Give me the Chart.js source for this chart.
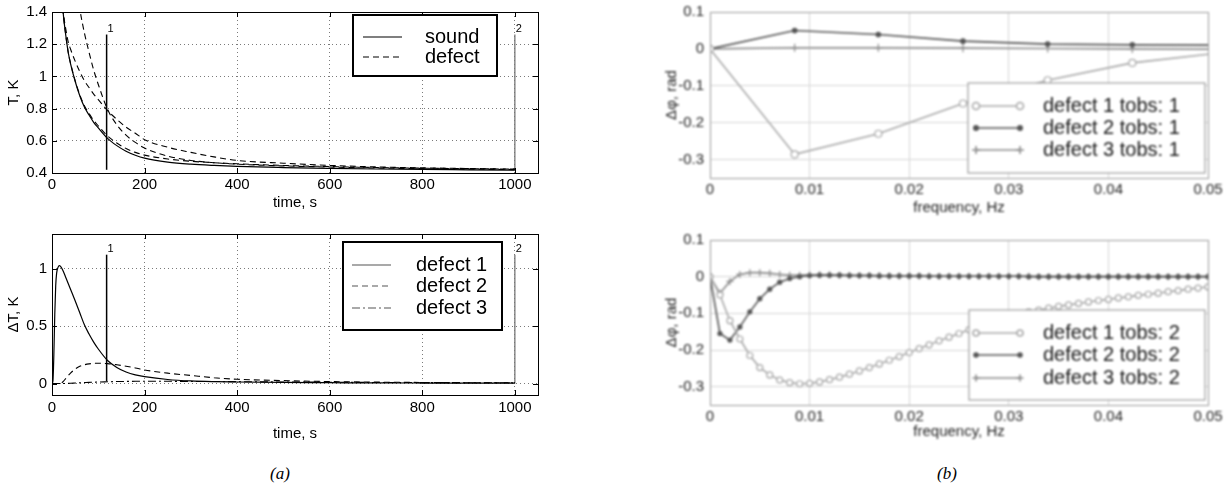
<!DOCTYPE html>
<html>
<head>
<meta charset="utf-8">
<script src="https://cdn.jsdelivr.net/npm/chart.js@4.4.0/dist/chart.umd.min.js"></script>
<style>
  html, body { margin: 0; padding: 0; background: #fff; }
  body { width: 1228px; height: 489px; position: relative; overflow: hidden; }
  canvas { position: absolute; }
  #histT { left: 0; top: 0; }
  #histDT { left: 0; top: 225px; }
  #phase1 { left: 640px; top: 0; }
  #phase2 { left: 640px; top: 225px; }
  .soft { filter: blur(0.8px); }
  .cap { position: absolute; top: 474px; transform: translate(-50%, -50%);
         font: italic 17px "Liberation Serif", "DejaVu Serif", serif; color: #000; }
</style>
</head>
<body>
<canvas id="histT" width="545" height="225"></canvas>
<canvas id="histDT" width="545" height="230"></canvas>
<canvas id="phase1" class="soft" width="585" height="225"></canvas>
<canvas id="phase2" class="soft" width="585" height="230"></canvas>
<div class="cap" style="left:280px">(a)</div>
<div class="cap" style="left:947px">(b)</div>
<script>
// (a) top: surface temperature, sound area and three defects
const timeT = [20, 25, 30, 35, 40, 50, 60, 70, 80, 90, 100, 120, 140, 160, 180, 200, 250, 300, 350, 400, 500, 600, 700, 800, 900, 1000];
const tSound = [1.55, 1.37, 1.25, 1.15, 1.08, 0.97, 0.88, 0.81, 0.76, 0.715, 0.68, 0.615, 0.57, 0.535, 0.51, 0.492, 0.468, 0.455, 0.447, 0.441, 0.434, 0.429, 0.425, 0.422, 0.42, 0.418];
const tDefect1 = [2.5, 2.3, 2.1, 1.97, 1.85, 1.62, 1.42, 1.27, 1.15, 1.04, 0.95, 0.795, 0.70, 0.635, 0.59, 0.555, 0.505, 0.478, 0.464, 0.455, 0.444, 0.437, 0.431, 0.427, 0.424, 0.421];
const tDefect2 = [1.553, 1.385, 1.29, 1.215, 1.17, 1.095, 1.03, 0.973, 0.931, 0.89, 0.856, 0.788, 0.733, 0.685, 0.647, 0.607, 0.56, 0.528, 0.5, 0.478, 0.461, 0.447, 0.438, 0.432, 0.428, 0.424];
const tDefect3 = [1.55, 1.37, 1.25, 1.15, 1.082, 0.974, 0.886, 0.818, 0.77, 0.727, 0.693, 0.63, 0.586, 0.552, 0.528, 0.511, 0.487, 0.473, 0.464, 0.457, 0.447, 0.44, 0.434, 0.43, 0.427, 0.424];

// (a) bottom: temperature contrast over each defect
const timeDT = [0, 2, 4, 6, 8, 10, 13, 16, 20, 25, 30, 40, 50, 60, 70, 80, 90, 100, 120, 140, 160, 180, 200, 250, 300, 350, 400, 500, 600, 700, 800, 900, 1000];
const dT1 = [0, 0.02, 0.25, 0.6, 0.85, 0.96, 1.01, 1.025, 1.01, 0.97, 0.92, 0.82, 0.72, 0.615, 0.51, 0.43, 0.36, 0.3, 0.2, 0.14, 0.1, 0.075, 0.06, 0.035, 0.022, 0.016, 0.013, 0.009, 0.007, 0.005, 0.004, 0.003, 0.003];
const dT2 = [0, 0, 0, 0, 0, 0, 0, 0.001, 0.003, 0.02, 0.045, 0.09, 0.125, 0.15, 0.163, 0.171, 0.175, 0.176, 0.173, 0.163, 0.15, 0.135, 0.118, 0.09, 0.07, 0.05, 0.037, 0.025, 0.017, 0.012, 0.009, 0.007, 0.006];
const dT3 = [0, 0, 0, 0, 0, 0, 0, 0, 0, 0, 0.001, 0.002, 0.004, 0.006, 0.008, 0.01, 0.011, 0.013, 0.015, 0.017, 0.018, 0.019, 0.019, 0.019, 0.018, 0.017, 0.016, 0.013, 0.011, 0.009, 0.008, 0.007, 0.006];

// observation times tobs 1 and 2
const markTime = [118, 1000];
const markLabels = ['1', '2'];
const markT = [[0.42, 1.26], [0.42, 1.26]];
const markDT = [[0.02, 1.12], [0, 1.12]];

const legendT = ['sound', 'defect'];
const legendDT = ['defect 1', 'defect 2', 'defect 3'];

// (b) phase difference spectra
const freq1 = [0, 0.0085, 0.0169, 0.0254, 0.0339, 0.0424, 0.0508];
const phi1D1 = [0, -0.286, -0.23, -0.148, -0.085, -0.038, -0.012];
const phi1D2 = [0, 0.05, 0.039, 0.021, 0.013, 0.011, 0.01];
const phi1D3 = [0, 0.003, 0.003, 0.002, 0.001, 0, -0.001];

const freq2 = [0, 0.001, 0.002, 0.003, 0.004, 0.005, 0.006, 0.007, 0.008, 0.009,
  0.01, 0.011, 0.012, 0.013, 0.014, 0.015, 0.016, 0.017, 0.018, 0.019,
  0.02, 0.021, 0.022, 0.023, 0.024, 0.025, 0.026, 0.027, 0.028, 0.029,
  0.03, 0.031, 0.032, 0.033, 0.034, 0.035, 0.036, 0.037, 0.038, 0.039,
  0.04, 0.041, 0.042, 0.043, 0.044, 0.045, 0.046, 0.047, 0.048, 0.049, 0.05];
const phi2D1 = [0, -0.05, -0.12, -0.17, -0.215, -0.248, -0.268, -0.282, -0.289, -0.292,
  -0.291, -0.287, -0.281, -0.274, -0.266, -0.257, -0.248, -0.238, -0.228, -0.218,
  -0.207, -0.196, -0.186, -0.175, -0.165, -0.155, -0.145, -0.135, -0.126, -0.117,
  -0.108, -0.102, -0.096, -0.091, -0.086, -0.081, -0.077, -0.073, -0.069, -0.065,
  -0.062, -0.058, -0.055, -0.051, -0.048, -0.045, -0.041, -0.038, -0.034, -0.031, -0.028];
const phi2D2 = [0, -0.155, -0.173, -0.137, -0.096, -0.06, -0.034, -0.015, -0.005, 0,
  0.003, 0.004, 0.004, 0.004, 0.003, 0.003, 0.003, 0.002, 0.002, 0.002,
  0.002, 0.002, 0.001, 0.001, 0.001, 0.001, 0.001, 0.001, 0.001, 0.001,
  0.001, 0.001, 0, 0, 0, 0, 0, 0, 0, 0,
  0, 0, 0, 0, 0, 0, 0, 0, 0, 0, 0];
const phi2D3 = [0, -0.045, -0.013, 0.006, 0.011, 0.011, 0.009, 0.006, 0.004, 0.004,
  0.005, 0.005, 0.005, 0.004, 0.004, 0.003, 0.003, 0.003, 0.002, 0.002,
  0.002, 0.002, 0.002, 0.001, 0.001, 0.001, 0.001, 0.001, 0.001, 0.001,
  0.001, 0.001, 0.001, 0, 0, 0, 0, 0, 0, 0,
  0, 0, 0, 0, 0, 0, 0, 0, 0, 0, 0];
const legendPhi1 = ['defect 1 tobs: 1', 'defect 2 tobs: 1', 'defect 3 tobs: 1'];
const legendPhi2 = ['defect 1 tobs: 2', 'defect 2 tobs: 2', 'defect 3 tobs: 2'];

const FONT = '"Liberation Sans", Arial, Helvetica, sans-serif';
const DASH = [6, 4];
const DASHDOT = [8, 3, 2, 3];

const pts = (xs, ys) => xs.map((x, i) => ({ x, y: ys[i] }));
const num = v => String(Math.round(v * 1e6) / 1e6);

// box round the plot area, with short inward ticks like the old matlab figures
const framePlugin = {
  id: 'frame',
  afterDatasetsDraw(chart, args, o) {
    if (!o || !o.color) return;
    const { ctx, chartArea: a, scales } = chart;
    ctx.save();
    ctx.strokeStyle = o.color;
    ctx.lineWidth = o.width;
    if (o.ticks) {
      ctx.beginPath();
      scales.x.ticks.forEach(t => {
        const px = Math.round(scales.x.getPixelForValue(t.value)) + 0.5;
        ctx.moveTo(px, a.bottom); ctx.lineTo(px, a.bottom - o.ticks);
        ctx.moveTo(px, a.top); ctx.lineTo(px, a.top + o.ticks);
      });
      scales.y.ticks.forEach(t => {
        const py = Math.round(scales.y.getPixelForValue(t.value)) + 0.5;
        ctx.moveTo(a.left, py); ctx.lineTo(a.left + o.ticks, py);
        ctx.moveTo(a.right, py); ctx.lineTo(a.right - o.ticks, py);
      });
      ctx.stroke();
    }
    ctx.strokeRect(Math.round(a.left) + 0.5, Math.round(a.top) + 0.5,
      Math.round(a.right - a.left), Math.round(a.bottom - a.top));
    ctx.restore();
  }
};

// numbers above the tobs lines
const tagPlugin = {
  id: 'tags',
  afterDatasetsDraw(chart, args, o) {
    if (!o || !o.labels) return;
    const { ctx, scales } = chart;
    ctx.save();
    ctx.font = '11px ' + FONT;
    ctx.fillStyle = '#000';
    ctx.textBaseline = 'middle';
    o.labels.forEach((lab, i) => {
      ctx.fillText(lab, scales.x.getPixelForValue(o.xs[i]) + 1, scales.y.getPixelForValue(o.tops[i]) - 6);
    });
    ctx.restore();
  }
};

// legend drawn inside the axes, in a boxed panel
const boxLegendPlugin = {
  id: 'boxLegend',
  afterDraw(chart, args, o) {
    if (!o || !o.labels) return;
    const ctx = chart.ctx;
    const [x1, y1, x2, y2] = o.box;
    ctx.save();
    ctx.fillStyle = '#fff';
    ctx.fillRect(x1, y1, x2 - x1, y2 - y1);
    ctx.strokeStyle = o.border;
    ctx.lineWidth = o.borderWidth;
    ctx.strokeRect(x1, y1, x2 - x1, y2 - y1);
    ctx.font = o.fontSize + 'px ' + FONT;
    ctx.textBaseline = 'middle';
    o.labels.forEach((lab, i) => {
      const ds = chart.data.datasets[o.styleFrom[i]];
      const y = o.rows[i];
      ctx.strokeStyle = o.sampleColor || ds.borderColor;
      ctx.lineWidth = ds.borderWidth;
      ctx.setLineDash(ds.borderDash || []);
      ctx.beginPath();
      ctx.moveTo(o.sample[0], y); ctx.lineTo(o.sample[1], y);
      ctx.stroke();
      ctx.setLineDash([]);
      if (ds.pointRadius) {
        ctx.fillStyle = ds.pointBackgroundColor;
        ctx.strokeStyle = ds.borderColor;
        const po = { pointStyle: ds.pointStyle, radius: ds.pointRadius, rotation: 0, borderWidth: 1 };
        Chart.helpers.drawPoint(ctx, po, o.sample[0], y);
        Chart.helpers.drawPoint(ctx, po, o.sample[1], y);
      }
      ctx.fillStyle = o.text;
      ctx.fillText(lab, o.textX, y);
    });
    ctx.restore();
  }
};

Chart.register(framePlugin, tagPlugin, boxLegendPlugin);

function axes(o) {
  return {
    x: {
      type: 'linear', min: o.xMin, max: o.xMax,
      ticks: { stepSize: o.xStep, includeBounds: false, autoSkip: false, maxRotation: 0,
        padding: o.xPad, color: o.text, font: { family: FONT, size: 15 }, callback: num },
      grid: { color: o.grid, drawTicks: false, lineWidth: 1 },
      border: { display: false, dash: o.dash },
      title: { display: true, text: o.xTitle, color: o.text, font: { family: FONT, size: 15 },
        padding: { top: 0, bottom: o.xTitlePad } },
      afterFit: s => { s.height = o.bottomH; s.paddingLeft = 0; s.paddingRight = 0; }
    },
    y: {
      type: 'linear', min: o.yMin, max: o.yMax,
      ticks: { stepSize: o.yStep, includeBounds: false, autoSkip: false,
        padding: o.yPad, color: o.text, font: { family: FONT, size: 15 }, callback: num },
      grid: { color: o.grid, drawTicks: false, lineWidth: 1 },
      border: { display: false, dash: o.dash },
      title: { display: true, text: o.yTitle, color: o.text, font: { family: FONT, size: 15 },
        padding: { top: o.yTitlePad, bottom: 0 } },
      afterFit: s => { s.width = o.leftW; s.paddingTop = 0; s.paddingBottom = 0; }
    }
  };
}

function curve(label, xs, ys, dash, color, width) {
  return { label, data: pts(xs, ys), borderColor: color, backgroundColor: color,
    borderWidth: width, borderDash: dash, pointRadius: 0, cubicInterpolationMode: 'monotone' };
}
function markLine(t, ys, color, width) {
  return { data: [{ x: t, y: ys[0] }, { x: t, y: ys[1] }], borderColor: color,
    borderWidth: width, pointRadius: 0 };
}
function series(label, xs, ys, color, style, r, fill) {
  return { label, data: pts(xs, ys), borderColor: color, borderWidth: 1.6,
    pointStyle: style, pointRadius: r, pointBorderWidth: 1.2, pointBorderColor: color,
    pointBackgroundColor: fill, backgroundColor: fill, tension: 0 };
}

function make(id, datasets, padding, scales, plugins) {
  return new Chart(document.getElementById(id), {
    type: 'line',
    data: { datasets },
    options: {
      responsive: false, animation: false, events: [],
      layout: { padding },
      scales,
      plugins: Object.assign({ legend: { display: false }, tooltip: { enabled: false } }, plugins)
    }
  });
}

// (a) top
make('histT', [
  curve('sound', timeT, tSound, [], '#000', 1.2),
  curve('defect 1', timeT, tDefect1, DASH, '#000', 1.1),
  curve('defect 2', timeT, tDefect2, DASH, '#000', 1.1),
  curve('defect 3', timeT, tDefect3, DASH, '#000', 1.1),
  markLine(markTime[0], markT[0], '#000', 1.5),
  markLine(markTime[1], markT[1], '#777', 1.3)
], { left: 0, top: 12, right: 7, bottom: 0 },
axes({ xMin: 0, xMax: 1050, xStep: 200, yMin: 0.4, yMax: 1.4, yStep: 0.2,
  xTitle: 'time, s', yTitle: 'T, K', text: '#000', grid: '#7a7a7a', dash: [1, 3],
  xPad: 3, yPad: 5, xTitlePad: 13, yTitlePad: 5, leftW: 52, bottomH: 52 }),
{ frame: { color: '#000', width: 1, ticks: 5 },
  tags: { labels: markLabels, xs: markTime, tops: [markT[0][1], markT[1][1]] },
  boxLegend: { labels: legendT, styleFrom: [0, 1], box: [353, 15, 497, 76], sample: [363, 402],
    textX: 425, rows: [37, 57], fontSize: 20, border: '#000', borderWidth: 2, text: '#000' } });

// (a) bottom
make('histDT', [
  curve('defect 1', timeDT, dT1, [], '#000', 1.2),
  curve('defect 2', timeDT, dT2, DASH, '#000', 1.1),
  curve('defect 3', timeDT, dT3, DASHDOT, '#000', 1.1),
  markLine(markTime[0], markDT[0], '#000', 1.5),
  markLine(markTime[1], markDT[1], '#777', 1.3)
], { left: 0, top: 9, right: 7, bottom: 0 },
axes({ xMin: 0, xMax: 1050, xStep: 200, yMin: -0.1, yMax: 1.3, yStep: 0.5,
  xTitle: 'time, s', yTitle: '\u0394T, K', text: '#000', grid: '#7a7a7a', dash: [1, 3],
  xPad: 4, yPad: 5, xTitlePad: 12, yTitlePad: 5, leftW: 52, bottomH: 60 }),
{ frame: { color: '#000', width: 1, ticks: 5 },
  tags: { labels: markLabels, xs: markTime, tops: [markDT[0][1], markDT[1][1]] },
  boxLegend: { labels: legendDT, styleFrom: [0, 1, 2], box: [343, 17, 502, 105], sample: [352, 391],
    textX: 416, rows: [40, 61, 83], fontSize: 20, border: '#000', borderWidth: 2, text: '#000',
    sampleColor: '#555' } });

// (b) top, tobs 1
make('phase1', [
  series('defect 1', freq1, phi1D1, '#a8a8a8', 'circle', 3.5, '#fff'),
  series('defect 2', freq1, phi1D2, '#555555', 'circle', 2.2, '#555555'),
  series('defect 3', freq1, phi1D3, '#8a8a8a', 'cross', 4, '#8a8a8a')
], { left: 0, top: 12, right: 17, bottom: 0 },
axes({ xMin: 0, xMax: 0.05, xStep: 0.01, yMin: -0.35, yMax: 0.1, yStep: 0.1,
  xTitle: 'frequency, Hz', yTitle: '\u0394\u03c6, rad', text: '#1e1e1e', grid: '#d6d6d6', dash: [],
  xPad: 3, yPad: 6, xTitlePad: 8, yTitlePad: 23, leftW: 70, bottomH: 47 }),
{ frame: { color: '#9a9a9a', width: 1, ticks: 0 },
  boxLegend: { labels: legendPhi1, styleFrom: [0, 1, 2], box: [328, 83, 565, 173], sample: [336, 380],
    textX: 403, rows: [106, 128, 150], fontSize: 20, border: '#8a8a8a', borderWidth: 1, text: '#161616' } });

// (b) bottom, tobs 2
make('phase2', [
  series('defect 1', freq2, phi2D1, '#a8a8a8', 'circle', 3, '#fff'),
  series('defect 2', freq2, phi2D2, '#555555', 'circle', 2, '#555555'),
  series('defect 3', freq2, phi2D3, '#8a8a8a', 'cross', 3.5, '#8a8a8a')
], { left: 0, top: 15, right: 17, bottom: 0 },
axes({ xMin: 0, xMax: 0.05, xStep: 0.01, yMin: -0.35, yMax: 0.1, yStep: 0.1,
  xTitle: 'frequency, Hz', yTitle: '\u0394\u03c6, rad', text: '#1e1e1e', grid: '#d6d6d6', dash: [],
  xPad: 3, yPad: 6, xTitlePad: 14, yTitlePad: 23, leftW: 70, bottomH: 50 }),
{ frame: { color: '#9a9a9a', width: 1, ticks: 0 },
  boxLegend: { labels: legendPhi2, styleFrom: [0, 1, 2], box: [329, 85, 565, 175], sample: [336, 380],
    textX: 403, rows: [108, 130, 153], fontSize: 20, border: '#8a8a8a', borderWidth: 1, text: '#161616' } });
</script>
</body>
</html>
